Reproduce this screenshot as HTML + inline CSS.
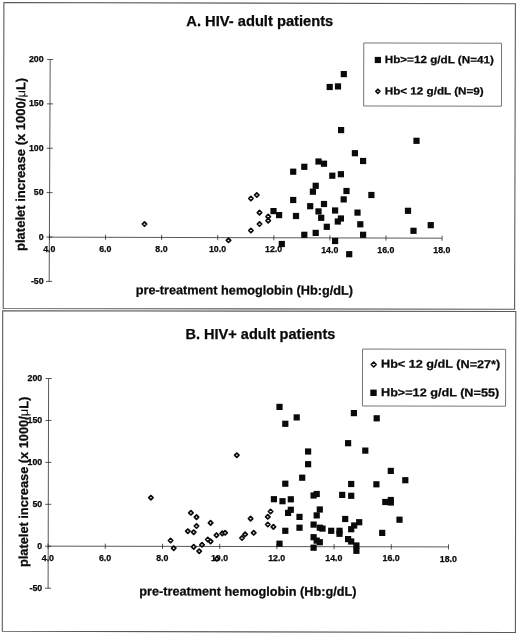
<!DOCTYPE html>
<html><head><meta charset="utf-8"><title>Platelet increase vs pre-treatment hemoglobin</title>
<style>
html,body{margin:0;padding:0;background:#fff}
svg{display:block}
text{font-family:"Liberation Sans",sans-serif;font-weight:bold;fill:#0a0a0a;stroke:#0a0a0a;stroke-width:0.25px}
.t{font-size:14.7px}
.ax{font-size:12.7px}
.tk{font-size:8.8px}
.ln{stroke:#222;stroke-width:0.75;fill:none}
.fr{stroke:#5a5a5a;stroke-width:1.1;fill:none}
.lg{stroke:#666;stroke-width:0.9;fill:#fff}
</style></head><body>
<svg width="520" height="636" viewBox="0 0 520 636">
<rect width="520" height="636" fill="#fff"/>

<path class="fr" d="M3.9 2.5L515.4 3.7L514.6 309.2L3.2 308.5Z"/>
<path class="fr" d="M2.7 310.8L515.8 311.5L515.4 632.5L2.3 631.2Z"/>
<text class="t" x="259.8" y="25.9" text-anchor="middle" style="font-size:14.7px">A. HIV- adult patients</text>
<text class="tk" x="43.6" y="62.00" text-anchor="end">200</text>
<text class="tk" x="43.6" y="106.38" text-anchor="end">150</text>
<text class="tk" x="43.6" y="150.76" text-anchor="end">100</text>
<text class="tk" x="43.6" y="195.14" text-anchor="end">50</text>
<text class="tk" x="43.6" y="239.52" text-anchor="end">0</text>
<text class="tk" x="43.6" y="283.90" text-anchor="end">-50</text>
<text class="tk" x="49.26" y="251.85" text-anchor="middle">4.0</text>
<text class="tk" x="105.35" y="252.00" text-anchor="middle">6.0</text>
<text class="tk" x="161.44" y="252.15" text-anchor="middle">8.0</text>
<text class="tk" x="217.53" y="252.30" text-anchor="middle">10.0</text>
<text class="tk" x="273.63" y="252.45" text-anchor="middle">12.0</text>
<text class="tk" x="329.72" y="252.60" text-anchor="middle">14.0</text>
<text class="tk" x="385.81" y="252.75" text-anchor="middle">16.0</text>
<text class="tk" x="441.90" y="252.90" text-anchor="middle">18.0</text>
<path class="ln" d="M50.2 59.5L49.2 281.4M49.46 237.15L442.1 238.2M47.10 59.50H53.20M46.90 103.88H53.00M46.70 148.26H52.80M46.50 192.64H52.60M46.30 237.02H52.40M46.10 281.40H52.20M49.46 234.55V239.75M105.55 234.70V239.90M161.64 234.85V240.05M217.73 235.00V240.20M273.83 235.15V240.35M329.92 235.30V240.50M386.01 235.45V240.65M442.10 235.60V240.80"/>
<text class="ax" x="135.8" y="294.2" transform="rotate(0.14 135.8 294.2)">pre-treatment hemoglobin (Hb:g/dL)</text>
<text class="ax" transform="translate(25 164.4) rotate(-89.86)" text-anchor="middle" style="font-size:13.03px">platelet increase (x 1000/<tspan style="font-weight:normal;stroke:none">μ</tspan>L)</text>
<rect x="270.40" y="208.00" width="6.2" height="6.2" fill="#0a0a0a"/>
<rect x="276.00" y="212.00" width="6.2" height="6.2" fill="#0a0a0a"/>
<rect x="278.70" y="240.90" width="6.2" height="6.2" fill="#0a0a0a"/>
<rect x="290.10" y="168.60" width="6.2" height="6.2" fill="#0a0a0a"/>
<rect x="290.10" y="196.90" width="6.2" height="6.2" fill="#0a0a0a"/>
<rect x="292.90" y="212.90" width="6.2" height="6.2" fill="#0a0a0a"/>
<rect x="301.20" y="163.70" width="6.2" height="6.2" fill="#0a0a0a"/>
<rect x="301.20" y="231.70" width="6.2" height="6.2" fill="#0a0a0a"/>
<rect x="307.10" y="203.10" width="6.2" height="6.2" fill="#0a0a0a"/>
<rect x="309.80" y="188.60" width="6.2" height="6.2" fill="#0a0a0a"/>
<rect x="312.60" y="182.70" width="6.2" height="6.2" fill="#0a0a0a"/>
<rect x="315.40" y="158.40" width="6.2" height="6.2" fill="#0a0a0a"/>
<rect x="312.60" y="229.80" width="6.2" height="6.2" fill="#0a0a0a"/>
<rect x="315.40" y="208.30" width="6.2" height="6.2" fill="#0a0a0a"/>
<rect x="318.10" y="214.70" width="6.2" height="6.2" fill="#0a0a0a"/>
<rect x="320.90" y="160.60" width="6.2" height="6.2" fill="#0a0a0a"/>
<rect x="320.90" y="200.90" width="6.2" height="6.2" fill="#0a0a0a"/>
<rect x="323.70" y="223.70" width="6.2" height="6.2" fill="#0a0a0a"/>
<rect x="329.20" y="172.60" width="6.2" height="6.2" fill="#0a0a0a"/>
<rect x="332.00" y="207.40" width="6.2" height="6.2" fill="#0a0a0a"/>
<rect x="332.00" y="237.90" width="6.2" height="6.2" fill="#0a0a0a"/>
<rect x="334.70" y="218.40" width="6.2" height="6.2" fill="#0a0a0a"/>
<rect x="337.80" y="171.10" width="6.2" height="6.2" fill="#0a0a0a"/>
<rect x="337.80" y="215.40" width="6.2" height="6.2" fill="#0a0a0a"/>
<rect x="340.60" y="196.30" width="6.2" height="6.2" fill="#0a0a0a"/>
<rect x="343.40" y="187.90" width="6.2" height="6.2" fill="#0a0a0a"/>
<rect x="346.10" y="251.10" width="6.2" height="6.2" fill="#0a0a0a"/>
<rect x="354.40" y="209.50" width="6.2" height="6.2" fill="#0a0a0a"/>
<rect x="357.20" y="221.20" width="6.2" height="6.2" fill="#0a0a0a"/>
<rect x="360.00" y="231.70" width="6.2" height="6.2" fill="#0a0a0a"/>
<rect x="360.00" y="157.90" width="6.2" height="6.2" fill="#0a0a0a"/>
<rect x="368.30" y="191.90" width="6.2" height="6.2" fill="#0a0a0a"/>
<rect x="404.90" y="207.70" width="6.2" height="6.2" fill="#0a0a0a"/>
<rect x="410.40" y="227.70" width="6.2" height="6.2" fill="#0a0a0a"/>
<rect x="340.70" y="71.00" width="6.2" height="6.2" fill="#0a0a0a"/>
<rect x="326.60" y="83.90" width="6.2" height="6.2" fill="#0a0a0a"/>
<rect x="334.90" y="83.30" width="6.2" height="6.2" fill="#0a0a0a"/>
<rect x="338.00" y="127.00" width="6.2" height="6.2" fill="#0a0a0a"/>
<rect x="413.40" y="137.70" width="6.2" height="6.2" fill="#0a0a0a"/>
<rect x="351.80" y="150.10" width="6.2" height="6.2" fill="#0a0a0a"/>
<rect x="427.65" y="222.05" width="6.2" height="6.2" fill="#0a0a0a"/>
<path d="M144.50 221.80L146.70 224.00L144.50 226.20L142.30 224.00Z" fill="#fff" stroke="#0a0a0a" stroke-width="1.7" stroke-linejoin="round"/>
<path d="M228.50 238.10L230.70 240.30L228.50 242.50L226.30 240.30Z" fill="#fff" stroke="#0a0a0a" stroke-width="1.7" stroke-linejoin="round"/>
<path d="M250.90 228.30L253.10 230.50L250.90 232.70L248.70 230.50Z" fill="#fff" stroke="#0a0a0a" stroke-width="1.7" stroke-linejoin="round"/>
<path d="M250.90 196.30L253.10 198.50L250.90 200.70L248.70 198.50Z" fill="#fff" stroke="#0a0a0a" stroke-width="1.7" stroke-linejoin="round"/>
<path d="M256.80 192.80L259.00 195.00L256.80 197.20L254.60 195.00Z" fill="#fff" stroke="#0a0a0a" stroke-width="1.7" stroke-linejoin="round"/>
<path d="M259.50 210.40L261.70 212.60L259.50 214.80L257.30 212.60Z" fill="#fff" stroke="#0a0a0a" stroke-width="1.7" stroke-linejoin="round"/>
<path d="M259.50 221.80L261.70 224.00L259.50 226.20L257.30 224.00Z" fill="#fff" stroke="#0a0a0a" stroke-width="1.7" stroke-linejoin="round"/>
<path d="M268.20 214.40L270.40 216.60L268.20 218.80L266.00 216.60Z" fill="#fff" stroke="#0a0a0a" stroke-width="1.7" stroke-linejoin="round"/>
<path d="M268.20 218.40L270.40 220.60L268.20 222.80L266.00 220.60Z" fill="#fff" stroke="#0a0a0a" stroke-width="1.7" stroke-linejoin="round"/>
<rect class="lg" x="363.7" y="43.1" width="137.8" height="63" transform="rotate(0.1 432 75)"/>
<rect x="374.75" y="56.90" width="6.2" height="6.2" fill="#0a0a0a"/>
<text transform="translate(384.7 63.0) rotate(0.15) scale(1.125 1)" style="font-size:10.4px">Hb&gt;=12 g/dL (N=41)</text>
<path d="M377.85 89.20L379.95 91.30L377.85 93.40L375.75 91.30Z" fill="#fff" stroke="#0a0a0a" stroke-width="1.6" stroke-linejoin="round"/>
<text transform="translate(384.7 94.4) rotate(0.15) scale(1.125 1)" style="font-size:10.4px">Hb&lt; 12 g/dL (N=9)</text>
<text class="t" x="260.4" y="339.0" text-anchor="middle" style="font-size:14.55px">B. HIV+ adult patients</text>
<text class="tk" x="42.2" y="381.00" text-anchor="end">200</text>
<text class="tk" x="42.2" y="422.94" text-anchor="end">150</text>
<text class="tk" x="42.2" y="464.88" text-anchor="end">100</text>
<text class="tk" x="42.2" y="506.82" text-anchor="end">50</text>
<text class="tk" x="42.2" y="548.76" text-anchor="end">0</text>
<text class="tk" x="42.2" y="590.70" text-anchor="end">-50</text>
<text class="tk" x="47.90" y="560.85" text-anchor="middle">4.0</text>
<text class="tk" x="105.10" y="560.96" text-anchor="middle">6.0</text>
<text class="tk" x="162.30" y="561.06" text-anchor="middle">8.0</text>
<text class="tk" x="219.50" y="561.17" text-anchor="middle">10.0</text>
<text class="tk" x="276.70" y="561.28" text-anchor="middle">12.0</text>
<text class="tk" x="333.90" y="561.39" text-anchor="middle">14.0</text>
<text class="tk" x="391.10" y="561.49" text-anchor="middle">16.0</text>
<text class="tk" x="448.30" y="561.60" text-anchor="middle">18.0</text>
<path class="ln" d="M48.6 378.5L48.1 588.2M48.1 546.15L448.5 546.9M45.50 378.50H51.60M45.40 420.44H51.50M45.30 462.38H51.40M45.20 504.32H51.30M45.10 546.26H51.20M45.00 588.20H51.10M48.10 543.55V548.75M105.30 543.66V548.86M162.50 543.76V548.96M219.70 543.87V549.07M276.90 543.98V549.18M334.10 544.09V549.29M391.30 544.19V549.39M448.50 544.30V549.50"/>
<text class="ax" x="139.3" y="595.5" transform="rotate(0.1 139.3 595.5)">pre-treatment hemoglobin (Hb:g/dL)</text>
<text class="ax" transform="translate(28.0 481.9) rotate(-89.9)" text-anchor="middle" style="font-size:12.8px">platelet increase (x 1000/<tspan style="font-weight:normal;stroke:none">μ</tspan>L)</text>
<rect x="276.40" y="403.80" width="6.2" height="6.2" fill="#0a0a0a"/>
<rect x="282.20" y="420.70" width="6.2" height="6.2" fill="#0a0a0a"/>
<rect x="293.60" y="414.30" width="6.2" height="6.2" fill="#0a0a0a"/>
<rect x="350.80" y="410.00" width="6.2" height="6.2" fill="#0a0a0a"/>
<rect x="373.60" y="415.20" width="6.2" height="6.2" fill="#0a0a0a"/>
<rect x="345.00" y="440.10" width="6.2" height="6.2" fill="#0a0a0a"/>
<rect x="362.20" y="447.50" width="6.2" height="6.2" fill="#0a0a0a"/>
<rect x="305.00" y="448.40" width="6.2" height="6.2" fill="#0a0a0a"/>
<rect x="305.00" y="461.10" width="6.2" height="6.2" fill="#0a0a0a"/>
<rect x="299.10" y="474.60" width="6.2" height="6.2" fill="#0a0a0a"/>
<rect x="282.20" y="480.60" width="6.2" height="6.2" fill="#0a0a0a"/>
<rect x="387.70" y="467.80" width="6.2" height="6.2" fill="#0a0a0a"/>
<rect x="402.20" y="477.10" width="6.2" height="6.2" fill="#0a0a0a"/>
<rect x="348.10" y="480.90" width="6.2" height="6.2" fill="#0a0a0a"/>
<rect x="373.30" y="481.20" width="6.2" height="6.2" fill="#0a0a0a"/>
<rect x="313.60" y="490.90" width="6.2" height="6.2" fill="#0a0a0a"/>
<rect x="310.50" y="492.40" width="6.2" height="6.2" fill="#0a0a0a"/>
<rect x="339.10" y="491.80" width="6.2" height="6.2" fill="#0a0a0a"/>
<rect x="348.10" y="492.70" width="6.2" height="6.2" fill="#0a0a0a"/>
<rect x="270.80" y="496.10" width="6.2" height="6.2" fill="#0a0a0a"/>
<rect x="279.40" y="498.10" width="6.2" height="6.2" fill="#0a0a0a"/>
<rect x="287.70" y="496.20" width="6.2" height="6.2" fill="#0a0a0a"/>
<rect x="387.70" y="496.90" width="6.2" height="6.2" fill="#0a0a0a"/>
<rect x="387.70" y="499.40" width="6.2" height="6.2" fill="#0a0a0a"/>
<rect x="382.20" y="498.90" width="6.2" height="6.2" fill="#0a0a0a"/>
<rect x="287.70" y="506.70" width="6.2" height="6.2" fill="#0a0a0a"/>
<rect x="285.00" y="509.80" width="6.2" height="6.2" fill="#0a0a0a"/>
<rect x="296.40" y="513.80" width="6.2" height="6.2" fill="#0a0a0a"/>
<rect x="316.70" y="506.40" width="6.2" height="6.2" fill="#0a0a0a"/>
<rect x="313.60" y="512.30" width="6.2" height="6.2" fill="#0a0a0a"/>
<rect x="342.10" y="515.90" width="6.2" height="6.2" fill="#0a0a0a"/>
<rect x="356.10" y="519.10" width="6.2" height="6.2" fill="#0a0a0a"/>
<rect x="396.40" y="516.60" width="6.2" height="6.2" fill="#0a0a0a"/>
<rect x="351.10" y="522.40" width="6.2" height="6.2" fill="#0a0a0a"/>
<rect x="310.50" y="521.50" width="6.2" height="6.2" fill="#0a0a0a"/>
<rect x="296.40" y="524.60" width="6.2" height="6.2" fill="#0a0a0a"/>
<rect x="316.70" y="524.60" width="6.2" height="6.2" fill="#0a0a0a"/>
<rect x="319.40" y="525.50" width="6.2" height="6.2" fill="#0a0a0a"/>
<rect x="348.10" y="526.10" width="6.2" height="6.2" fill="#0a0a0a"/>
<rect x="282.20" y="527.70" width="6.2" height="6.2" fill="#0a0a0a"/>
<rect x="328.10" y="527.70" width="6.2" height="6.2" fill="#0a0a0a"/>
<rect x="336.40" y="527.70" width="6.2" height="6.2" fill="#0a0a0a"/>
<rect x="336.40" y="530.70" width="6.2" height="6.2" fill="#0a0a0a"/>
<rect x="379.10" y="529.80" width="6.2" height="6.2" fill="#0a0a0a"/>
<rect x="310.50" y="534.10" width="6.2" height="6.2" fill="#0a0a0a"/>
<rect x="313.60" y="537.50" width="6.2" height="6.2" fill="#0a0a0a"/>
<rect x="316.70" y="539.10" width="6.2" height="6.2" fill="#0a0a0a"/>
<rect x="345.00" y="536.00" width="6.2" height="6.2" fill="#0a0a0a"/>
<rect x="348.10" y="538.40" width="6.2" height="6.2" fill="#0a0a0a"/>
<rect x="276.40" y="540.60" width="6.2" height="6.2" fill="#0a0a0a"/>
<rect x="310.50" y="544.60" width="6.2" height="6.2" fill="#0a0a0a"/>
<rect x="353.30" y="542.40" width="6.2" height="6.2" fill="#0a0a0a"/>
<rect x="353.30" y="547.70" width="6.2" height="6.2" fill="#0a0a0a"/>
<path d="M150.90 495.50L153.10 497.70L150.90 499.90L148.70 497.70Z" fill="#fff" stroke="#0a0a0a" stroke-width="1.7" stroke-linejoin="round"/>
<path d="M236.80 453.00L239.00 455.20L236.80 457.40L234.60 455.20Z" fill="#fff" stroke="#0a0a0a" stroke-width="1.7" stroke-linejoin="round"/>
<path d="M170.60 538.30L172.80 540.50L170.60 542.70L168.40 540.50Z" fill="#fff" stroke="#0a0a0a" stroke-width="1.7" stroke-linejoin="round"/>
<path d="M173.70 546.00L175.90 548.20L173.70 550.40L171.50 548.20Z" fill="#fff" stroke="#0a0a0a" stroke-width="1.7" stroke-linejoin="round"/>
<path d="M187.80 529.00L190.00 531.20L187.80 533.40L185.60 531.20Z" fill="#fff" stroke="#0a0a0a" stroke-width="1.7" stroke-linejoin="round"/>
<path d="M190.90 510.60L193.10 512.80L190.90 515.00L188.70 512.80Z" fill="#fff" stroke="#0a0a0a" stroke-width="1.7" stroke-linejoin="round"/>
<path d="M193.70 530.00L195.90 532.20L193.70 534.40L191.50 532.20Z" fill="#fff" stroke="#0a0a0a" stroke-width="1.7" stroke-linejoin="round"/>
<path d="M193.70 544.70L195.90 546.90L193.70 549.10L191.50 546.90Z" fill="#fff" stroke="#0a0a0a" stroke-width="1.7" stroke-linejoin="round"/>
<path d="M196.50 514.90L198.70 517.10L196.50 519.30L194.30 517.10Z" fill="#fff" stroke="#0a0a0a" stroke-width="1.7" stroke-linejoin="round"/>
<path d="M196.50 523.80L198.70 526.00L196.50 528.20L194.30 526.00Z" fill="#fff" stroke="#0a0a0a" stroke-width="1.7" stroke-linejoin="round"/>
<path d="M199.20 549.00L201.40 551.20L199.20 553.40L197.00 551.20Z" fill="#fff" stroke="#0a0a0a" stroke-width="1.7" stroke-linejoin="round"/>
<path d="M202.00 542.60L204.20 544.80L202.00 547.00L199.80 544.80Z" fill="#fff" stroke="#0a0a0a" stroke-width="1.7" stroke-linejoin="round"/>
<path d="M207.80 537.30L210.00 539.50L207.80 541.70L205.60 539.50Z" fill="#fff" stroke="#0a0a0a" stroke-width="1.7" stroke-linejoin="round"/>
<path d="M210.60 539.20L212.80 541.40L210.60 543.60L208.40 541.40Z" fill="#fff" stroke="#0a0a0a" stroke-width="1.7" stroke-linejoin="round"/>
<path d="M210.60 520.70L212.80 522.90L210.60 525.10L208.40 522.90Z" fill="#fff" stroke="#0a0a0a" stroke-width="1.7" stroke-linejoin="round"/>
<path d="M216.50 533.00L218.70 535.20L216.50 537.40L214.30 535.20Z" fill="#fff" stroke="#0a0a0a" stroke-width="1.7" stroke-linejoin="round"/>
<path d="M222.30 531.20L224.50 533.40L222.30 535.60L220.10 533.40Z" fill="#fff" stroke="#0a0a0a" stroke-width="1.7" stroke-linejoin="round"/>
<path d="M225.10 530.60L227.30 532.80L225.10 535.00L222.90 532.80Z" fill="#fff" stroke="#0a0a0a" stroke-width="1.7" stroke-linejoin="round"/>
<path d="M242.00 535.80L244.20 538.00L242.00 540.20L239.80 538.00Z" fill="#fff" stroke="#0a0a0a" stroke-width="1.7" stroke-linejoin="round"/>
<path d="M245.10 532.10L247.30 534.30L245.10 536.50L242.90 534.30Z" fill="#fff" stroke="#0a0a0a" stroke-width="1.7" stroke-linejoin="round"/>
<path d="M250.60 516.40L252.80 518.60L250.60 520.80L248.40 518.60Z" fill="#fff" stroke="#0a0a0a" stroke-width="1.7" stroke-linejoin="round"/>
<path d="M253.70 530.60L255.90 532.80L253.70 535.00L251.50 532.80Z" fill="#fff" stroke="#0a0a0a" stroke-width="1.7" stroke-linejoin="round"/>
<path d="M267.80 514.60L270.00 516.80L267.80 519.00L265.60 516.80Z" fill="#fff" stroke="#0a0a0a" stroke-width="1.7" stroke-linejoin="round"/>
<path d="M270.60 509.30L272.80 511.50L270.60 513.70L268.40 511.50Z" fill="#fff" stroke="#0a0a0a" stroke-width="1.7" stroke-linejoin="round"/>
<path d="M267.80 522.30L270.00 524.50L267.80 526.70L265.60 524.50Z" fill="#fff" stroke="#0a0a0a" stroke-width="1.7" stroke-linejoin="round"/>
<path d="M273.40 524.70L275.60 526.90L273.40 529.10L271.20 526.90Z" fill="#fff" stroke="#0a0a0a" stroke-width="1.7" stroke-linejoin="round"/>
<path d="M216.90 556.60L219.10 558.80L216.90 561.00L214.70 558.80Z" fill="#fff" stroke="#0a0a0a" stroke-width="1.7" stroke-linejoin="round"/>
<rect class="lg" x="362.5" y="349.2" width="143.1" height="56.9" transform="rotate(0.1 434 377)"/>
<path d="M373.70 362.00L376.20 364.50L373.70 367.00L371.20 364.50Z" fill="#fff" stroke="#0a0a0a" stroke-width="1.6" stroke-linejoin="round"/>
<text transform="translate(381 367.6) rotate(0.2) scale(1.12 1)" style="font-size:11.3px">Hb&lt; 12 g/dL (N=27*)</text>
<rect x="370.30" y="389.60" width="6.4" height="6.4" fill="#0a0a0a"/>
<text transform="translate(381 396.1) rotate(0.2) scale(1.12 1)" style="font-size:11.3px">Hb&gt;=12 g/dL (N=55)</text>
</svg></body></html>
